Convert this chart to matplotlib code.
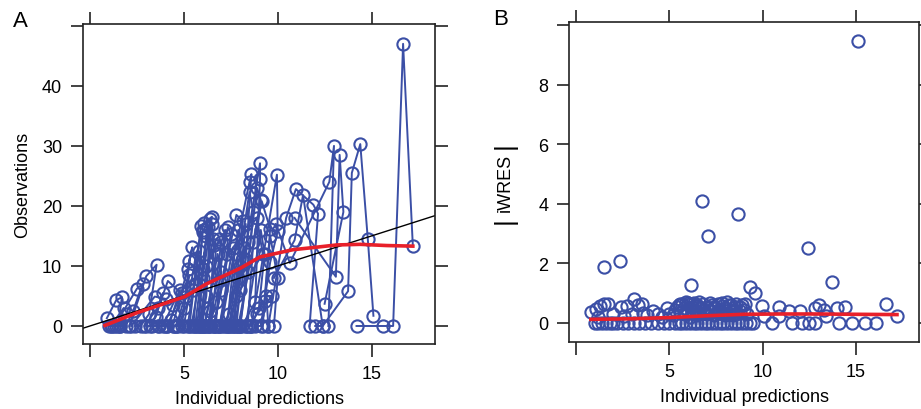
import numpy as np
import matplotlib
matplotlib.use('Agg')
import matplotlib.pyplot as plt

plt.rcParams['font.family'] = ['Liberation Sans', 'DejaVu Sans']

# panel A: individual predictions / observations, one inner list per subject
ipred = [
    [0.9, 1.4, 1.7, 1.5, 1.2, 1.0],
    [1.3, 2.5, 2.8, 2.3, 1.9, 1.6],
    [2.1, 3.0, 3.55, 3.15, 2.7, 2.4],
    [2.2, 3.45, 4.05, 3.6, 3.0],
    [3.3, 4.15, 5.06, 4.6, 4.0, 3.7],
    [4.4, 5.2, 5.45, 5.3, 4.9, 4.5],
    [5.3, 5.9, 6.1, 6.5, 6.0, 5.7],
    [5.5, 6.0, 6.4, 6.2, 5.9, 5.6],
    [5.8, 6.55, 6.7, 6.3, 6.1, 6.2],
    [6.3, 7.35, 7.5, 7.0, 6.6, 6.8],
    [6.6, 7.8, 8.15, 7.4, 7.1],
    [6.9, 8.5, 8.6, 8.3, 7.7, 7.3],
    [7.6, 9.06, 9.06, 8.8, 8.1, 7.9],
    [7.9, 9.15, 9.6, 9.3, 8.5, 8.3],
    [8.6, 9.96, 10.0, 9.6, 9.1, 8.8],
    [8.9, 9.7, 9.4, 9.5],
    [6.1, 6.8, 7.0, 6.7, 6.4],
    [4.7, 5.6, 5.8, 5.5, 5.2],
    [7.2, 8.0, 8.4, 7.9, 7.5],
    [6.9, 7.6, 8.9, 9.2, 8.0, 7.8],
    [9.5, 10.45, 10.97, 11.9, 12.15, 11.7],
    [9.8, 10.9, 11.35, 12.4, 12.0],
    [9.9, 10.65, 12.75, 13.0, 12.7],
    [10.9, 13.1, 13.3, 13.5, 12.5],
    [12.4, 13.75, 13.95, 14.4, 14.8, 15.1],
    [14.2, 15.6, 16.15, 16.68, 17.2],
    [1.1, 1.8, 2.0, 1.6, 1.4],
    [3.9, 4.4, 4.8, 4.3, 4.1],
    [5.0, 5.6, 6.0, 5.8, 5.4],
    [5.6, 6.2, 6.3, 6.0, 5.8],
    [6.0, 6.5, 6.6, 6.4, 6.3],
    [6.4, 7.0, 7.2, 6.9, 6.7],
    [7.0, 7.9, 8.2, 7.8, 7.4],
    [7.4, 8.5, 8.7, 8.4, 8.0],
    [8.0, 8.9, 9.1, 8.7, 8.4],
    [8.3, 9.1, 9.3, 9.0, 8.6],
    [4.1, 4.9, 5.3, 5.0, 4.6],
    [2.9, 3.6, 3.9, 3.5, 3.2],
    [5.9, 6.2, 6.9, 7.3, 6.6],
    [7.3, 7.7, 8.3, 8.1, 7.6],
    [9.2, 9.6, 10.0, 9.8],
]
obs = [
    [1.3, 4.3, 4.8, 0, 0, 0],
    [0, 6.2, 7.0, 2.5, 0, 0],
    [0, 8.3, 10.2, 2.0, 0, 0],
    [0, 4.9, 4.5, 0, 0],
    [0, 7.5, 4.9, 0, 0, 0],
    [0, 9.5, 13.1, 10.8, 0, 0],
    [0, 16.6, 17.2, 18.2, 8.0, 0],
    [0, 15.7, 17.8, 5.0, 0, 0],
    [0, 14.5, 12.0, 3.0, 0, 0],
    [0, 16.5, 15.3, 6.0, 0, 0],
    [0, 18.5, 17.5, 2.0, 0],
    [0, 24.0, 25.3, 11.0, 0, 0],
    [0, 27.1, 24.5, 4.0, 0, 0],
    [0, 20.8, 16.2, 4.2, 0, 0],
    [0, 25.2, 15.8, 10.6, 0, 0],
    [2.0, 5.0, 5.0, 0],
    [0, 12.0, 9.0, 4.0, 0],
    [0, 7.0, 12.5, 6.0, 0],
    [0, 10.0, 14.0, 8.0, 0],
    [0, 13.0, 18.0, 12.0, 6.0, 0],
    [0, 18.0, 22.8, 20.2, 18.7, 0],
    [8.0, 14.3, 21.8, 0, 0],
    [17.0, 10.5, 24.0, 30.0, 0],
    [18.0, 8.2, 28.5, 19.0, 3.7],
    [0, 5.8, 25.5, 30.3, 14.5, 1.7],
    [0, 0, 0, 47.0, 13.3],
    [0, 3.0, 2.0, 0, 0],
    [0, 3.5, 6.0, 1.0, 0],
    [0, 11.0, 16.0, 7.0, 0],
    [0, 15.0, 16.5, 9.5, 0],
    [0, 17.0, 13.5, 2.5, 0],
    [0, 14.0, 16.0, 7.5, 0],
    [0, 16.0, 13.0, 5.0, 0],
    [0, 22.3, 19.0, 9.0, 0],
    [0, 23.0, 21.0, 14.0, 0],
    [0, 16.0, 12.0, 3.0, 0],
    [0, 5.5, 8.5, 3.0, 0],
    [0, 3.0, 5.5, 1.5, 0],
    [0, 10.0, 14.5, 12.0, 0],
    [0, 12.0, 17.0, 11.0, 0],
    [0, 15.0, 8.0, 0],
]
# smooth (red)
smooth_a_x = [0.8, 2.5, 4.4, 5.06, 6.2, 6.75, 8.0, 9.06, 10.8, 12.0, 13.15, 14.4, 15.8, 17.2]
smooth_a_y = [0.1, 2.2, 4.2, 4.9, 7.0, 7.8, 9.6, 11.5, 12.7, 13.1, 13.5, 13.6, 13.4, 13.3]

# panel B: |iWRES| vs individual predictions
zero_x = [1.0, 1.2, 1.4, 1.6, 1.8, 2.0, 2.2, 2.5, 2.8, 3.1, 3.4, 3.7, 4.0, 4.4, 4.7,
          5.0, 5.3, 5.5, 5.7, 5.9, 6.1, 6.3, 6.5, 6.7, 6.9, 7.1, 7.3, 7.5, 7.7, 7.9,
          8.1, 8.3, 8.5, 8.7, 8.9, 9.1, 9.3, 9.5, 10.5, 11.6, 12.1, 12.5, 12.8,
          14.1, 14.8, 15.5, 16.05]
band_x = [0.8, 1.06, 1.3, 1.5, 1.7, 1.5, 2.35, 2.4, 2.6, 2.75, 3.1, 3.3, 3.55, 3.0,
          3.8, 4.15, 4.6, 5.0, 5.3, 5.5, 5.6, 5.7, 5.8, 5.9, 6.0, 6.1, 6.17, 6.2,
          6.3, 6.4, 6.5, 6.6, 6.7, 6.75, 6.8, 6.9, 7.0, 7.1, 7.2, 7.3, 7.4, 7.5,
          7.6, 7.7, 7.8, 7.9, 8.0, 8.1, 8.2, 8.3, 8.4, 8.5, 8.6, 8.7, 8.8, 8.9,
          9.05, 9.15, 9.3, 9.6, 9.95, 10.1, 10.9, 10.9, 11.4, 12.0, 12.45, 12.8,
          13.0, 13.3, 13.4, 13.7, 14.0, 14.4, 15.1, 16.6, 17.2,
          5.4, 5.6, 5.8, 6.0, 6.2, 6.4, 6.6, 6.8, 7.0, 7.2, 7.4, 7.6, 7.8, 8.0,
          8.2, 8.4, 8.6, 8.8, 9.0, 6.1, 6.3, 6.5, 4.9, 5.2, 2.0, 3.6, 4.4, 1.2]
band_y = [0.37, 0.47, 0.57, 0.64, 0.62, 1.88, 2.08, 0.54, 0.24, 0.57, 0.8, 0.6, 0.64, 0.3,
          0.25, 0.4, 0.2, 0.3, 0.45, 0.6, 0.35, 0.65, 0.5, 0.7, 0.4, 0.62, 1.26, 0.55,
          0.68, 0.45, 0.6, 0.3, 0.5, 4.1, 0.65, 0.35, 0.55, 2.93, 0.45, 0.6, 0.25, 0.5,
          0.62, 0.4, 0.58, 0.3, 0.5, 0.7, 0.45, 0.6, 0.25, 0.55, 0.65, 3.67, 0.4, 0.6,
          0.64, 0.3, 1.2, 1.0, 0.57, 0.24, 0.54, 0.22, 0.4, 0.4, 2.53, 0.5,
          0.6, 0.45, 0.24, 1.38, 0.5, 0.54, 9.45, 0.64, 0.24,
          0.55, 0.62, 0.3, 0.68, 0.4, 0.58, 0.7, 0.45, 0.3, 0.66, 0.55, 0.35, 0.68, 0.25,
          0.6, 0.45, 0.3, 0.55, 0.45, 0.2, 0.3, 0.25, 0.5, 0.25, 0.3, 0.35, 0.3, 0.2]
smooth_b_x = [0.8, 3.0, 5.0, 7.0, 9.0, 11.0, 13.0, 15.0, 17.2]
smooth_b_y = [0.12, 0.14, 0.18, 0.24, 0.29, 0.3, 0.3, 0.29, 0.28]

blue = '#3B4FA6'
red = '#E8202A'
W, H = 921, 410
fig = plt.figure(figsize=(W / 100, H / 100), dpi=100)
axA = fig.add_axes([83 / W, 1 - 345 / H, 352 / W, 320 / H])
axB = fig.add_axes([569 / W, 1 - 343 / H, 350 / W, 320 / H])

mk = dict(marker='o', mfc='none', mec=blue, ms=8.8, mew=1.5)

for xs, ys in zip(ipred, obs):
    axA.plot(xs, ys, color=blue, lw=1.4, **mk)
xl = (-0.37, 18.38)
axA.plot(xl, xl, color='black', lw=1)
axA.plot(smooth_a_x, smooth_a_y, color=red, lw=2.6)
axA.set_xlim(xl)
axA.set_ylim(-3, 50.3)
axA.set_yticks([0, 10, 20, 30, 40, 50])
axA.set_yticklabels(['0', '10', '20', '30', '40', ''])
axA.set_ylabel('Observations', fontsize=13, labelpad=8)

axB.plot(zero_x, np.zeros(len(zero_x)), ls='none', **mk)
axB.plot(band_x, band_y, ls='none', **mk)
axB.plot(smooth_b_x, smooth_b_y, color=red, lw=2.6)
axB.set_xlim(xl)
axB.set_ylim(-0.64, 10.1)
axB.set_yticks([0, 2, 4, 6, 8, 10])
axB.set_yticklabels(['0', '2', '4', '6', '8', ''])
# |iWRES| with tall bars
axB.text(-0.183, 0.5, 'iWRES', transform=axB.transAxes, rotation=90,
         fontsize=13, ha='center', va='center')
for yb in (0.383, 0.617):
    axB.text(-0.183, yb, '|', transform=axB.transAxes, rotation=90,
             fontsize=19, ha='center', va='center')

for ax, letter, lx in ((axA, 'A', -0.2), (axB, 'B', -0.216)):
    ax.set_xticks([0, 5, 10, 15])
    ax.set_xticklabels(['', '5', '10', '15'])
    ax.set_xlabel('Individual predictions', fontsize=13, labelpad=6)
    ax.tick_params(direction='out', length=9, width=1.2, labelsize=13, pad=6,
                   top=True, right=True, color='#222222')
    for s in ax.spines.values():
        s.set_linewidth(1.2)
        s.set_color('#222222')
    ax.text(lx, 1.01, letter, transform=ax.transAxes, fontsize=16,
            ha='left', va='center')

fig.savefig('out.png', dpi=100)
